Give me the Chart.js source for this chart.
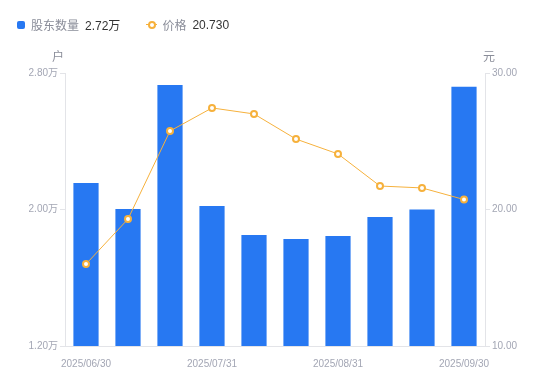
<!DOCTYPE html>
<html>
<head>
<meta charset="utf-8">
<script src="https://cdn.jsdelivr.net/npm/chart.js@4"></script>
<style>
  body { margin: 0; background: #fff; font-family: "Liberation Sans", "Noto Sans CJK SC", sans-serif; }
  #wrap { position: relative; width: 550px; height: 381px; }
  #legend { position: absolute; left: 17px; top: 16px; font-size: 12px; color: #8a8d99; display: flex; align-items: center; }
  .item { display: flex; align-items: center; margin-right: 26px; }
  .sq { width: 8px; height: 8px; border-radius: 2px; background: #2778f2; margin-right: 6px; }
  .ln { position: relative; width: 11px; height: 8px; margin-right: 5px; }
  .ln:before { content: ""; position: absolute; left: 0; right: 0; top: 3.5px; height: 1px; background: #f6b13c; }
  .ln:after { content: ""; position: absolute; left: 2px; top: 0; width: 4px; height: 4px; border: 2px solid #f6b13c; border-radius: 50%; background: #fff; }
  .val { color: #333; margin-left: 6px; }
</style>
</head>
<body>
<div id="wrap">
  <canvas id="c" width="550" height="381"></canvas>
  <div id="legend">
    <div class="item"><span class="sq"></span>股东数量<span class="val">2.72万</span></div>
    <div class="item"><span class="ln"></span>价格<span class="val">20.730</span></div>
  </div>
</div>
<script>
"use strict";

// categories and values
const dates = ['2025/06/30', '2025/07/10', '2025/07/20', '2025/07/31', '2025/08/10',
               '2025/08/20', '2025/08/31', '2025/09/10', '2025/09/19', '2025/09/30'];
const holders = [21550, 20030, 27300, 20200, 18500, 18270, 18450, 19560, 20000, 27200];
const price = [16.00, 19.30, 25.75, 27.44, 27.00, 25.16, 24.07, 21.72, 21.58, 20.73];
const shownDates = ['2025/06/30', '2025/07/31', '2025/08/31', '2025/09/30'];

const axisGrey = '#e3e4e8';
const tickGrey = '#a3a6b4';

// unit labels above the two y axes
const unitTitles = {
  id: 'unitTitles',
  afterDraw(chart) {
    const c = chart.ctx;
    c.save();
    c.font = '12px "Liberation Sans", "Noto Sans CJK SC", sans-serif';
    c.fillStyle = '#8a8d99';
    c.textAlign = 'center';
    c.textBaseline = 'middle';
    c.fillText('户', chart.scales.y.right - 7, 58);
    c.fillText('元', chart.scales.y1.left + 4, 58);
    c.restore();
  }
};

new Chart(document.getElementById('c'), {
  data: {
    labels: dates,
    datasets: [
      {
        type: 'line',
        label: '价格',
        data: price,
        yAxisID: 'y1',
        borderColor: '#f6b13c',
        borderWidth: 1,
        backgroundColor: '#fff',
        pointBorderColor: '#f6b13c',
        pointBackgroundColor: '#fff',
        pointBorderWidth: 2,
        pointRadius: 3,
        tension: 0,
        order: 0
      },
      {
        type: 'bar',
        label: '股东数量',
        data: holders,
        yAxisID: 'y',
        backgroundColor: '#2778f2',
        barPercentage: 0.6,
        categoryPercentage: 1,
        order: 1
      }
    ]
  },
  options: {
    responsive: false,
    animation: false,
    layout: { padding: { top: 73, left: 0, right: 0, bottom: 0 } },
    plugins: { legend: { display: false }, tooltip: { enabled: false } },
    scales: {
      x: {
        grid: { display: false },
        border: { color: axisGrey },
        afterFit(s) { s.height = 35; },
        ticks: {
          autoSkip: false,
          maxRotation: 0,
          padding: 4,
          color: tickGrey,
          font: { size: 10, family: '"Liberation Sans", sans-serif' },
          callback(v, i) {
            const l = dates[i];
            return shownDates.includes(l) ? l : '';
          }
        }
      },
      y: {
        position: 'left',
        min: 12000,
        max: 28000,
        afterFit(s) { s.width = 65; },
        afterBuildTicks(s) { s.ticks = [{ value: 12000 }, { value: 20000 }, { value: 28000 }]; },
        grid: { drawOnChartArea: false, color: axisGrey, tickLength: 5 },
        border: { color: axisGrey },
        ticks: {
          color: tickGrey,
          padding: 2,
          font: { size: 10, family: '"Liberation Sans", "Noto Sans CJK SC", sans-serif' },
          callback(v) { return (v / 10000).toFixed(2) + '万'; }
        }
      },
      y1: {
        position: 'right',
        min: 10,
        max: 30,
        afterFit(s) { s.width = 65; },
        afterBuildTicks(s) { s.ticks = [{ value: 10 }, { value: 20 }, { value: 30 }]; },
        grid: { drawOnChartArea: false, color: axisGrey, tickLength: 5 },
        border: { color: axisGrey },
        ticks: {
          color: tickGrey,
          padding: 2,
          font: { size: 10, family: '"Liberation Sans", sans-serif' },
          callback(v) { return v.toFixed(2); }
        }
      }
    }
  },
  plugins: [unitTitles]
});
</script>
</body>
</html>
